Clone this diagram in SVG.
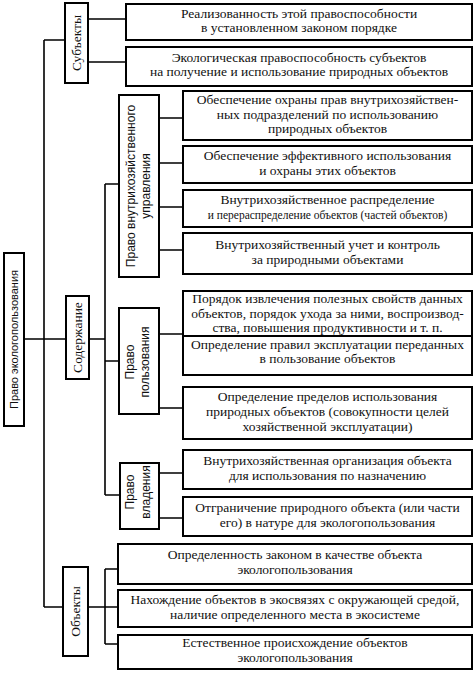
<svg xmlns="http://www.w3.org/2000/svg" width="475" height="678" viewBox="0 0 475 678">
<style>
.box{fill:#fff;stroke:#000;stroke-width:2}
.ln{stroke:#000;stroke-width:1.6;fill:none}
.t{font-family:"Liberation Serif","DejaVu Serif",serif;font-size:13.5px;text-anchor:middle;fill:#111}
.ts{font-family:"Liberation Serif","DejaVu Serif",serif;font-size:11.5px;text-anchor:middle;fill:#111}
.s{font-family:"Liberation Sans",Arial,sans-serif;font-size:12px;text-anchor:middle;fill:#111}
.s11{font-family:"Liberation Sans",Arial,sans-serif;font-size:11px;text-anchor:middle;fill:#111}
</style>
<rect width="475" height="678" fill="#fff"/>
<g id="connectors">
<path class="ln" d="M44,40V607M44,40H65M24,339H66M44,607H63"/>
<path class="ln" d="M88,19H126M88,62H126"/>
<path class="ln" d="M89,339H105M105,184V495M105,184H119M105,361H119M105,495H120"/>
<path class="ln" d="M159,118H183M159,163H183M159,207H183M159,250H183"/>
<path class="ln" d="M159,334H183M159,408H183"/>
<path class="ln" d="M159,473H183M159,518H183"/>
<path class="ln" d="M88,607H105M105,569V644M105,569H118M105,607H118M105,644H118"/>
</g>
<g id="root"><rect class="box" x="4" y="253" width="20" height="173"/><text class="s11" transform="translate(18,339.5) rotate(-90)">Право экологопользования</text></g>
<g id="subjects"><rect class="box" x="65" y="3" width="23" height="80"/><text class="t" transform="translate(81,43) rotate(-90)">Субъекты</text></g>
<g id="content"><rect class="box" x="66" y="296" width="23" height="83"/><text class="t" transform="translate(82,337.5) rotate(-90)">Содержание</text></g>
<g id="objects"><rect class="box" x="63" y="567" width="25" height="89"/><text class="t" transform="translate(80,611.5) rotate(-90)">Объекты</text></g>
<g id="mgmt"><rect class="box" x="119" y="95" width="40" height="182"/><text class="s" transform="translate(135,186) rotate(-90)">Право внутрихозяйственного</text><text class="s" transform="translate(150,186) rotate(-90)">управления</text></g>
<g id="use"><rect class="box" x="119" y="308" width="40" height="106"/><text class="s" transform="translate(134,362) rotate(-90)">Право</text><text class="s" transform="translate(149,362) rotate(-90)">пользования</text></g>
<g id="own"><rect class="box" x="120" y="463" width="39" height="66"/><text class="s" transform="translate(134,492) rotate(-90)">Право</text><text class="s" transform="translate(150,492) rotate(-90)">владения</text></g>
<g id="b1"><rect class="box" x="126" y="4" width="346" height="36"/><text class="t" x="299" y="17.5">Реализованность этой правоспособности</text><text class="t" x="299" y="32">в установленном законом порядке</text></g>
<g id="b2"><rect class="box" x="126" y="47" width="346" height="39"/><text class="t" x="299" y="61.5">Экологическая правоспособность субъектов</text><text class="t" x="299" y="76">на получение и использование природных объектов</text></g>
<g id="b3"><rect class="box" x="183" y="91" width="289" height="49"/><text class="t" x="327.5" y="104">Обеспечение охраны прав внутрихозяйствен-</text><text class="t" x="327.5" y="118.5">ных подразделений по использованию</text><text class="t" x="327.5" y="133">природных объектов</text></g>
<g id="b4"><rect class="box" x="183" y="146" width="289" height="37"/><text class="t" x="327.5" y="160">Обеспечение эффективного использования</text><text class="t" x="327.5" y="175">и охраны этих объектов</text></g>
<g id="b5"><rect class="box" x="183" y="190" width="289" height="37"/><text class="t" x="327.5" y="204">Внутрихозяйственное распределение</text><text class="ts" x="327.5" y="219">и перераспределение объектов (частей объектов)</text></g>
<g id="b6"><rect class="box" x="183" y="233" width="289" height="41"/><text class="t" x="327.5" y="249">Внутрихозяйственный учет и контроль</text><text class="t" x="327.5" y="264">за природными объектами</text></g>
<g id="b7"><rect class="box" x="183" y="291" width="289" height="45"/><text class="t" x="327.5" y="303">Порядок извлечения полезных свойств данных</text><text class="t" x="327.5" y="318">объектов, порядок ухода за ними, воспроизвод-</text><text class="t" x="327.5" y="332">ства, повышения продуктивности и т. п.</text></g>
<g id="b8"><rect class="box" x="183" y="336" width="289" height="39"/><text class="t" x="327.5" y="349">Определение правил эксплуатации переданных</text><text class="t" x="327.5" y="363">в пользование объектов</text></g>
<g id="b9"><rect class="box" x="183" y="387" width="289" height="52"/><text class="t" x="327.5" y="401">Определение пределов использования</text><text class="t" x="327.5" y="416">природных объектов (совокупности целей</text><text class="t" x="327.5" y="431">хозяйственной эксплуатации)</text></g>
<g id="b10"><rect class="box" x="183" y="450" width="289" height="39"/><text class="t" x="327.5" y="465">Внутрихозяйственная организация объекта</text><text class="t" x="327.5" y="480">для использования по назначению</text></g>
<g id="b11"><rect class="box" x="183" y="497" width="289" height="39"/><text class="t" x="327.5" y="512">Отграничение природного объекта (или части</text><text class="t" x="327.5" y="527">его) в натуре для экологопользования</text></g>
<g id="b12"><rect class="box" x="118" y="544" width="354" height="40"/><text class="t" x="295" y="559">Определенность законом в качестве объекта</text><text class="t" x="295" y="574">экологопользования</text></g>
<g id="b13"><rect class="box" x="118" y="590" width="354" height="37"/><text class="t" x="295" y="604">Нахождение объектов в экосвязях с окружающей средой,</text><text class="t" x="295" y="619">наличие определенного места в экосистеме</text></g>
<g id="b14"><rect class="box" x="118" y="635" width="354" height="34"/><text class="t" x="295" y="647">Естественное происхождение объектов</text><text class="t" x="295" y="662">экологопользования</text></g>
</svg>
